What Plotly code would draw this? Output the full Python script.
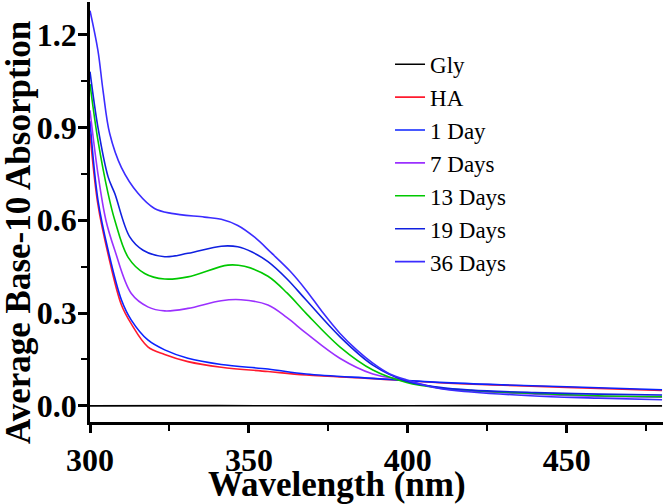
import plotly.graph_objects as go

## Data
wl_gly = [300, 340, 380, 420, 460, 480]
gly = [0.0, 0.001, 0.0, 0.001, 0.0, 0.0]

wl_ha = [300, 302.5, 305.7, 309.9, 313, 318.2, 323.5, 330.8, 341.3, 356, 368, 389, 410, 430, 450, 480]
ha = [0.88, 0.65, 0.49, 0.326, 0.265, 0.191, 0.166, 0.143, 0.125, 0.111, 0.1, 0.088, 0.075, 0.067, 0.06, 0.05]

wl_d1 = [300, 302.5, 305.7, 309.9, 313, 318.2, 323.5, 330.8, 341.3, 356, 368, 389, 410, 430, 450, 480]
d1 = [0.92, 0.665, 0.503, 0.342, 0.277, 0.213, 0.181, 0.154, 0.134, 0.119, 0.103, 0.089, 0.076, 0.068, 0.062, 0.052]

wl_d7 = [300, 302.5, 305, 307.8, 313, 318.2, 323.5, 330.8, 341.3, 347.5, 356, 362, 368, 378.6, 389, 399.6, 410, 420, 440, 460, 480]
d7 = [0.955, 0.75, 0.6, 0.503, 0.363, 0.32, 0.307, 0.315, 0.34, 0.343, 0.326, 0.285, 0.235, 0.154, 0.103, 0.082, 0.057, 0.048, 0.038, 0.031, 0.028]

wl_d13 = [300, 302.5, 305.7, 307.8, 312, 317.2, 323.5, 330.8, 343.4, 348.6, 356, 362, 368, 378.6, 389, 399.6, 410, 420, 440, 460, 480]
d13 = [1.04, 0.858, 0.686, 0.6, 0.48, 0.428, 0.41, 0.417, 0.455, 0.451, 0.419, 0.365, 0.299, 0.191, 0.116, 0.076, 0.058, 0.05, 0.04, 0.033, 0.03]

wl_d19 = [300, 302.5, 305.7, 307.8, 312.5, 316.7, 323.5, 330.8, 341.3, 346.5, 351, 356, 362, 368, 378.6, 389, 399.6, 410, 420, 440, 460, 480]
d19 = [1.08, 0.9, 0.74, 0.686, 0.546, 0.503, 0.482, 0.493, 0.516, 0.514, 0.497, 0.466, 0.41, 0.342, 0.224, 0.132, 0.08, 0.06, 0.051, 0.043, 0.038, 0.035]

wl_d36 = [300, 302.5, 304.1, 306.2, 309.9, 315.1, 320.3, 325.6, 336, 341.3, 346.5, 351.8, 357, 363, 368, 373, 378.6, 384, 389, 394, 399.6, 410, 420, 440, 460, 480]
d36 = [1.277, 1.148, 1.019, 0.88, 0.77, 0.687, 0.638, 0.622, 0.61, 0.603, 0.583, 0.545, 0.495, 0.435, 0.374, 0.305, 0.235, 0.18, 0.138, 0.105, 0.084, 0.056, 0.045, 0.032, 0.025, 0.02]

series = [
    ("Gly", wl_gly, gly, "#000000"),
    ("HA", wl_ha, ha, "#ff1a2e"),
    ("1 Day", wl_d1, d1, "#0a22ff"),
    ("7 Days", wl_d7, d7, "#9b30ff"),
    ("13 Days", wl_d13, d13, "#00c800"),
    ("19 Days", wl_d19, d19, "#1020e0"),
    ("36 Days", wl_d36, d36, "#3b2cff"),
]

fig = go.Figure()
for name, x, y, c in series:
    fig.add_trace(go.Scatter(x=x, y=y, name=name, mode="lines",
                             line=dict(color=c, width=1.6, shape="spline", smoothing=1.0)))

serif = "Liberation Serif"
axis_common = dict(showline=True, linecolor="black", linewidth=2.5, ticks="outside",
                   tickwidth=2.5, tickcolor="black", showgrid=False, zeroline=False,
                   tickfont=dict(family=serif, size=32, color="black", weight="bold"),
                   mirror=False, automargin=False)

fig.update_xaxes(range=[300, 480.3], tickvals=[300, 350, 400, 450], ticklen=8,
                 minor=dict(tickvals=[325, 375, 425, 475], ticks="outside", ticklen=6,
                            tickwidth=2, tickcolor="black"),
                 **axis_common)
fig.update_yaxes(range=[-0.052, 1.305], tickvals=[0.0, 0.3, 0.6, 0.9, 1.2], tickformat=".1f",
                 ticklen=9, ticklabelstandoff=-5,
                 minor=dict(tickvals=[0.15, 0.45, 0.75, 1.05], ticks="outside", ticklen=6,
                            tickwidth=2, tickcolor="black"),
                 **axis_common)

# axis titles as annotations, they sit off-centre in the original
title_font = dict(family=serif, size=35, color="black", weight="bold")
fig.add_annotation(text="Wavelength (nm)", xref="paper", yref="paper", x=0.431, y=-0.148,
                   xanchor="center", yanchor="middle", showarrow=False, font=title_font)
fig.add_annotation(text="Average Base-10 Absorption", xref="paper", yref="paper", x=-0.126, y=0.452,
                   xanchor="center", yanchor="middle", textangle=-90, showarrow=False, font=title_font)

fig.update_layout(
    width=668, height=504,
    margin=dict(l=90, r=5, t=2, b=82),
    font=dict(family=serif, color="black"),
    paper_bgcolor="white", plot_bgcolor="white",
    legend=dict(x=0.5236, y=0.903, xanchor="left", yanchor="top", bgcolor="rgba(0,0,0,0)",
                font=dict(family=serif, size=23, color="black"), tracegroupgap=0),
)

fig.write_html("out.html", config={"displayModeBar": False},
               post_script="document.body.style.margin='0';")
